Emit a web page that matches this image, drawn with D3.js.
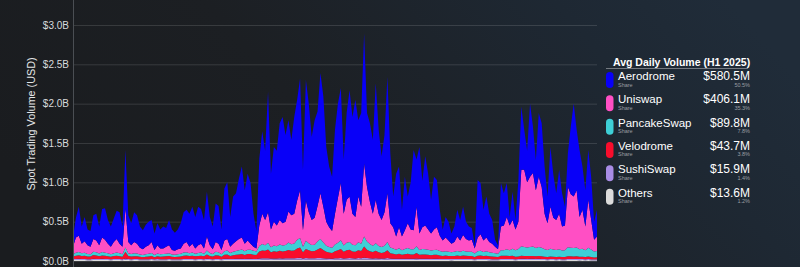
<!DOCTYPE html>
<html>
<head>
<meta charset="utf-8">
<script src="https://cdn.jsdelivr.net/npm/d3@7"></script>
<style>
  html, body { margin: 0; padding: 0; background: #1b1e21; }
  svg { display: block; font-family: "Liberation Sans", Arial, sans-serif; }
</style>
</head>
<body>
<div id="chart"></div>
<script>
/* Daily spot volume by DEX, H1 2025, $M per day */
var days = d3.timeDay.range(new Date(2025, 0, 1), new Date(2025, 6, 1));

var aerodrome = [
  120,250,370,220,310,200,200,300,340,240, 360,400,300,260,300,360,400,260,740,340,
  280,380,360,270,240,280,300,280,210,280, 240,
  280,240,320,260,230,250,320,400,410,420, 470,400,490,440,360,570,360,290,490,480,
  260,660,720,380,600,610,770,900,680,850,
  770,420,220,850,1050,880,1530,710,950,950, 1230,1350,1100,1160,960,1230,1280,1420,770,1530,
  1380,1060,1240,1200,1530,1400,950,770,690,1070,
  1200,1210,690,1100,1350,1230,1490,970,1190,1650, 940,1000,940,1480,1070,810,980,1480,890,390,
  800,770,340,680,340,600,1020,600,1100,590,
  880,710,430,670,600,330,140,260,240,130, 200,340,260,360,220,180,150,40,730,650,
  390,520,360,300,90,50,550,410,430,110, 360,
  120,530,800,510,400,930,590,380,810,810, 600,340,760,550,340,560,420,240,430,860,
  1180,770,850,550,460,630,550,230,340
];
var uniswap = [
  94,194,205,122,146,111,94,162,149,105, 186,164,123,93,141,172,123,93,497,141,
  110,143,125,87,73,93,109,139,63,106, 75,
  71,87,101,57,51,63,69,112,128,81, 112,67,97,112,67,177,97,61,124,108,
  53,136,148,77,104,124,144,154,97,116,
  77,49,39,258,385,319,389,224,302,262, 311,284,296,394,366,378,501,609,209,512,
  394,316,342,453,581,454,307,251,213,391,
  569,726,402,549,578,393,360,583,472,927, 693,533,405,554,409,342,427,618,309,270,
  167,268,172,237,316,250,242,502,210,279,
  302,258,218,260,286,193,143,175,143,108, 123,184,143,201,159,143,151,64,176,209,
  145,176,130,114,81,57,302,312,412,312, 364,
  262,348,974,981,828,891,937,736,891,772, 450,341,533,403,379,450,305,314,765,681,
  654,729,412,495,302,613,373,149,183
];
var pancakeswap = [
  30,40,42,35,38,32,30,42,40,34, 44,40,36,32,36,40,36,32,55,36,
  33,36,35,30,28,32,34,36,28,34, 30,
  32,34,36,30,28,32,34,40,42,36, 40,34,38,40,34,50,38,32,44,42,
  32,46,50,38,44,48,52,56,46,56,
  55,50,45,70,80,72,85,65,75,70, 80,75,78,95,85,88,110,120,70,105,
  90,80,82,100,115,95,75,70,65,85,
  95,110,80,95,100,85,82,100,90,130, 105,92,82,95,80,75,82,105,72,68,
  60,70,58,66,72,66,65,85,62,68,
  65,62,58,62,64,56,52,55,52,50, 52,56,52,58,54,52,54,45,56,60,
  52,56,50,48,45,42,70,72,80,75, 90,
  85,95,120,115,110,115,118,105,115,108, 95,88,100,92,90,95,85,86,115,110,
  108,112,95,100,88,110,95,75,80
];
var velodrome = [
  32,40,45,38,40,34,33,48,44,36, 42,40,36,32,38,42,36,32,85,38,
  34,36,35,30,28,32,34,40,28,36, 32,
  34,36,38,32,30,32,34,42,44,38, 42,36,40,42,36,55,40,34,46,44,
  32,50,54,40,46,50,56,60,50,60,
  60,55,50,90,100,95,110,80,90,85, 95,88,92,105,95,98,120,130,80,115,
  100,90,92,110,125,105,85,78,72,90,
  100,115,85,100,105,88,85,100,92,140, 105,90,80,95,78,72,78,100,68,62,
  55,62,52,58,62,56,55,70,50,55,
  55,52,48,50,52,45,40,44,40,38, 40,44,40,45,42,40,40,30,42,45,
  38,42,36,35,32,30,42,40,42,38, 40,
  30,32,38,36,35,36,37,33,36,34, 30,28,32,30,28,30,27,27,34,33,
  32,33,29,30,27,32,29,25,26
];
var sushiswap = [
  12,14,15,13,14,12,12,15,14,13, 15,14,13,12,13,14,13,12,18,13,
  12,13,13,12,11,12,12,13,11,13, 12,
  12,12,13,11,11,12,12,14,14,13, 14,12,13,14,12,15,13,12,14,14,
  12,15,15,13,14,15,15,16,14,15,
  15,14,14,18,20,19,20,17,18,18, 19,18,19,20,19,20,22,23,17,21,
  20,19,19,21,22,20,18,17,16,19,
  20,22,18,20,21,19,18,21,20,25, 21,20,18,20,18,17,18,21,17,16,
  15,16,15,16,16,15,15,18,15,15,
  15,15,14,15,15,14,13,14,13,13, 13,14,13,14,13,13,13,11,14,14,
  13,14,13,12,12,11,14,14,14,13, 14,
  12,13,15,15,14,15,15,14,15,14, 13,12,13,13,12,13,12,12,14,14,
  14,14,13,13,12,13,12,11,11
];
var others = [
  12,12,13,12,12,11,11,13,13,12, 13,12,12,11,12,12,12,11,15,12,
  11,12,12,11,10,11,11,12,10,11, 11,
  11,11,12,10,10,11,11,12,12,12, 12,11,12,12,11,13,12,11,12,12,
  11,13,13,12,12,13,13,14,13,13,
  13,12,12,14,15,15,16,14,15,15, 15,15,15,16,15,16,17,18,14,17,
  16,15,15,16,17,16,15,14,14,15,
  16,17,15,16,16,15,15,16,16,18, 16,15,15,16,15,14,15,16,14,14,
  13,14,13,13,14,13,13,15,13,13,
  13,13,12,13,13,12,12,12,12,11, 12,12,12,12,12,12,12,10,12,12,
  12,12,11,11,10,10,12,12,12,12, 12,
  11,12,13,13,13,13,13,12,13,12, 12,11,12,12,11,12,11,11,12,12,
  12,12,11,12,11,12,11,10,10
];

/* Legend table */
var names   = ['Aerodrome', 'Uniswap', 'PancakeSwap', 'Velodrome', 'SushiSwap', 'Others'];
var keys    = ['aerodrome', 'uniswap', 'pancakeswap', 'velodrome', 'sushiswap', 'others'];
var colors  = ['#0800f8', '#ff4fc4', '#3ecfd6', '#f80d2c', '#a88ce6', '#dcdcdc'];
var avgVol  = ['$580.5M', '$406.1M', '$89.8M', '$43.7M', '$15.9M', '$13.6M'];
var shares  = ['50.5%', '35.3%', '7.8%', '3.8%', '1.4%', '1.2%'];
var yTicks  = [0, 500, 1000, 1500, 2000, 2500, 3000];

var series = {
  aerodrome: aerodrome, uniswap: uniswap, pancakeswap: pancakeswap,
  velodrome: velodrome, sushiswap: sushiswap, others: others
};
var rows = days.map(function (d, i) {
  var r = { date: d };
  keys.forEach(function (k) { r[k] = series[k][i]; });
  return r;
});

var W = 800, H = 267;
var m = { left: 73, right: 203, bottom: 6 };

var svg = d3.select('#chart').append('svg')
  .attr('width', W).attr('height', H);

/* Background */
var defs = svg.append('defs');
var bg = defs.append('linearGradient').attr('id', 'bg')
  .attr('x1', '0').attr('y1', '0.6').attr('x2', '1').attr('y2', '0.3');
bg.append('stop').attr('offset', '0%').attr('stop-color', '#1a1c1f');
bg.append('stop').attr('offset', '40%').attr('stop-color', '#1c1f23');
bg.append('stop').attr('offset', '80%').attr('stop-color', '#1e2833');
bg.append('stop').attr('offset', '100%').attr('stop-color', '#202c39');
svg.append('rect').attr('width', W).attr('height', H).attr('fill', 'url(#bg)');

var x = d3.scaleTime()
  .domain([days[0], days[days.length - 1]])
  .range([m.left, W - m.right]);
var y = d3.scaleLinear()
  .domain([0, 3317.5])
  .range([H - m.bottom, 0]);

/* Grid */
svg.append('g')
  .attr('transform', 'translate(' + m.left + ',0)')
  .call(d3.axisLeft(y).tickValues(yTicks).tickSize(-(W - m.right - m.left)).tickFormat(''))
  .call(function (g) { g.select('.domain').remove(); })
  .selectAll('line')
  .attr('stroke', '#ffffff')
  .attr('stroke-opacity', 0.13);

/* Stacked areas, bottom layer first */
var stack = d3.stack().keys(keys.slice().reverse());
var layers = stack(rows);

var area = d3.area()
  .x(function (d) { return x(d.data.date); })
  .y0(function (d) { return y(d[0]); })
  .y1(function (d) { return y(d[1]); })
  .curve(d3.curveLinear);

svg.append('g').selectAll('path')
  .data(layers)
  .join('path')
  .attr('d', area)
  .attr('fill', function (d) { return colors[keys.indexOf(d.key)]; });

/* Y axis */
var yAxis = svg.append('g')
  .attr('transform', 'translate(' + m.left + ',0)')
  .call(d3.axisLeft(y).tickValues(yTicks).tickSize(0).tickPadding(4)
    .tickFormat(function (d) { return '$' + (d / 1000).toFixed(1) + 'B'; }));
yAxis.select('.domain').remove();
yAxis.selectAll('text')
  .attr('fill', '#d8dadc')
  .attr('font-size', '10px')
  .attr('font-family', '"Liberation Sans", Arial, sans-serif');

svg.append('line')
  .attr('x1', m.left + 0.5).attr('x2', m.left + 0.5)
  .attr('y1', 0).attr('y2', H)
  .attr('stroke', '#4a4e53').attr('stroke-width', 1);

svg.append('text')
  .attr('transform', 'translate(35,124) rotate(-90)')
  .attr('text-anchor', 'middle')
  .attr('fill', '#e4e6e8')
  .attr('font-size', '10.8px')
  .text('Spot Trading Volume (USD)');

/* Legend */
var lg = svg.append('g');
lg.append('text')
  .attr('x', 613).attr('y', 66)
  .attr('fill', '#ffffff')
  .attr('font-size', '10.5px')
  .attr('font-weight', 'bold')
  .text('Avg Daily Volume (H1 2025)');
lg.append('line')
  .attr('x1', 606).attr('x2', 748)
  .attr('y1', 68.5).attr('y2', 68.5)
  .attr('stroke', '#8a8f95').attr('stroke-width', 0.8);

var item = lg.selectAll('.item')
  .data(names)
  .join('g')
  .attr('class', 'item')
  .attr('transform', function (d, i) { return 'translate(0,' + (80 + i * 23.33) + ')'; });

item.append('rect')
  .attr('x', 606).attr('y', -8)
  .attr('width', 7.5).attr('height', 16)
  .attr('rx', 3.75)
  .attr('fill', function (d, i) { return colors[i]; });

item.append('text')
  .attr('x', 618).attr('y', 0)
  .attr('fill', '#ffffff')
  .attr('font-size', '11.5px')
  .text(function (d) { return d; });

item.append('text')
  .attr('x', 618).attr('y', 6.5)
  .attr('fill', '#9a9ea3')
  .attr('font-size', '5.5px')
  .text('Share');

item.append('text')
  .attr('x', 750).attr('y', 0)
  .attr('text-anchor', 'end')
  .attr('fill', '#ffffff')
  .attr('font-size', '12px')
  .text(function (d, i) { return avgVol[i]; });

item.append('text')
  .attr('x', 750).attr('y', 6.5)
  .attr('text-anchor', 'end')
  .attr('fill', '#9a9ea3')
  .attr('font-size', '5.5px')
  .text(function (d, i) { return shares[i]; });
</script>
</body>
</html>
